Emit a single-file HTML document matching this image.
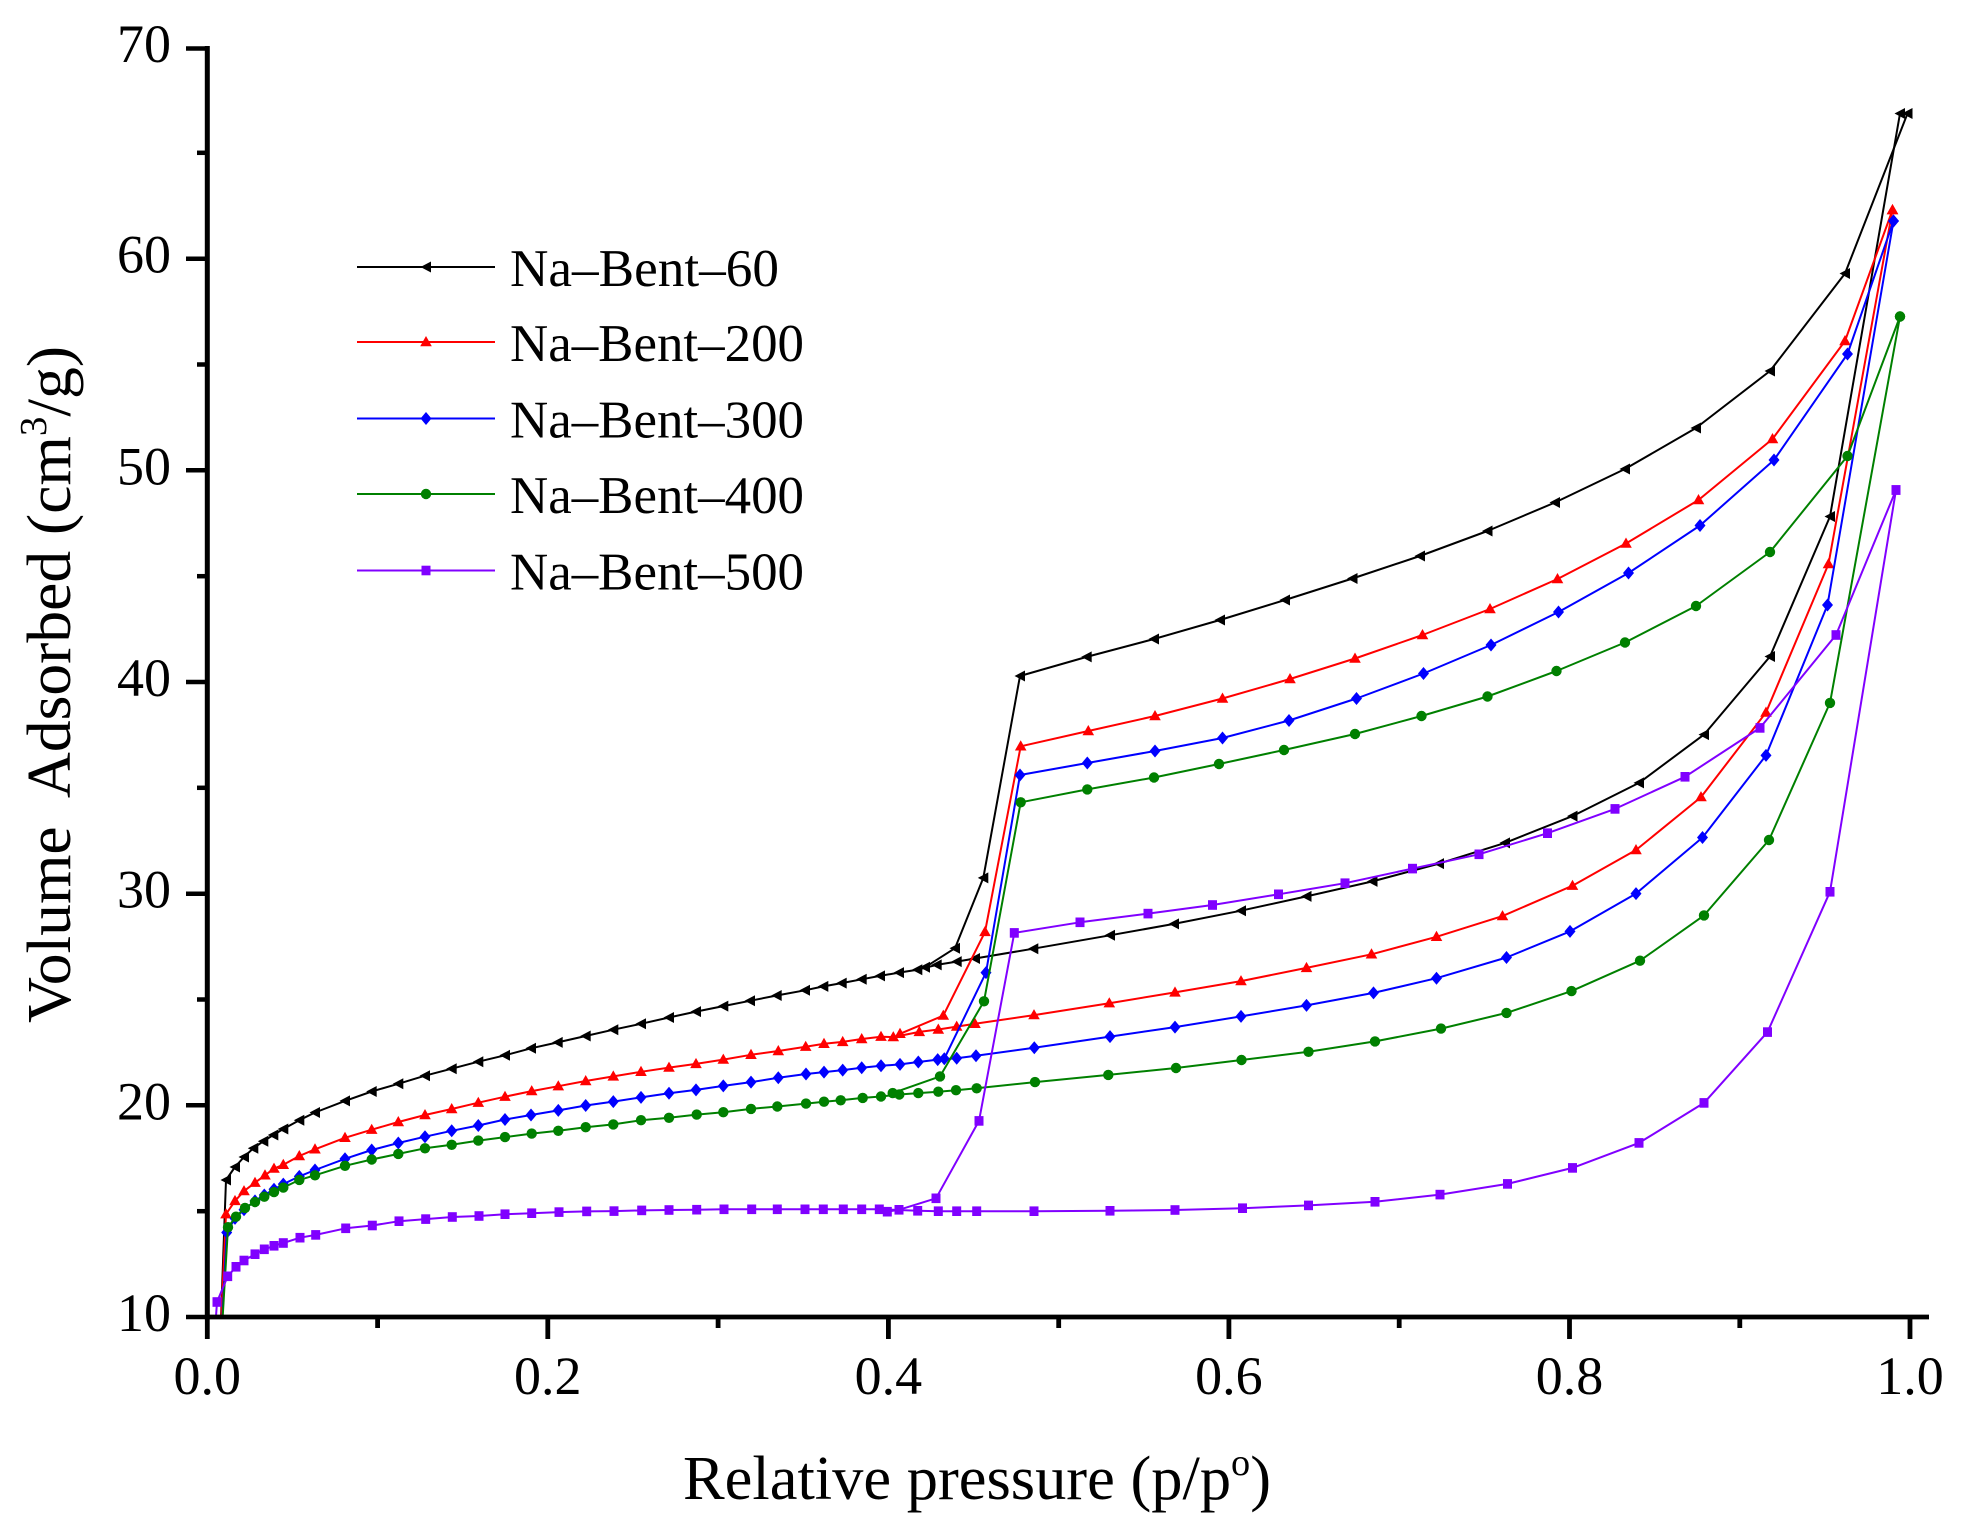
<!DOCTYPE html>
<html>
<head>
<meta charset="utf-8">
<style>
html,body{margin:0;padding:0;background:#fff;}
svg{display:block;}
text{font-family:"Liberation Serif","DejaVu Serif",serif;fill:#000;}
</style>
</head>
<body>
<svg width="1971" height="1538" viewBox="0 0 1971 1538" xmlns="http://www.w3.org/2000/svg">
<defs>
<clipPath id="plot"><rect x="207" y="0" width="1764" height="1317"/></clipPath>
<marker id="mk" markerUnits="userSpaceOnUse" markerWidth="14" markerHeight="14" refX="0" refY="0" overflow="visible"><path d="M-5.5,0 L5,-5.5 L5,5.5 Z" fill="#000"/></marker>
<marker id="mr" markerUnits="userSpaceOnUse" markerWidth="14" markerHeight="14" refX="0" refY="0" overflow="visible"><path d="M0,-6 L5.8,4.2 L-5.8,4.2 Z" fill="#ff0000"/></marker>
<marker id="mb" markerUnits="userSpaceOnUse" markerWidth="14" markerHeight="14" refX="0" refY="0" overflow="visible"><path d="M0,-6.5 L5.5,0 L0,6.5 L-5.5,0 Z" fill="#0000ff"/></marker>
<marker id="mg" markerUnits="userSpaceOnUse" markerWidth="14" markerHeight="14" refX="0" refY="0" overflow="visible"><circle cx="0" cy="0" r="5.2" fill="#008000"/></marker>
<marker id="mp" markerUnits="userSpaceOnUse" markerWidth="14" markerHeight="14" refX="0" refY="0" overflow="visible"><rect x="-4.5" y="-4.8" width="9" height="9.6" fill="#8000ff"/></marker>
</defs>

<!-- series -->
<g clip-path="url(#plot)" fill="none" stroke-width="2" stroke-linejoin="round">
<!-- black -->
<polyline stroke="#000" marker-start="url(#mk)" marker-mid="url(#mk)" marker-end="url(#mk)" points="220,1345 226,1180 235,1167 244,1157 253.3,1148.3 263.3,1141.3 273.3,1135 283.3,1129 299.3,1120.2 315,1112.5 345,1100.9 371.7,1091.5 398.3,1083.8 425,1075.7 451.7,1068.7 478.3,1061.7 505,1055.3 531,1048.3 557.7,1042.4 585.7,1036 613.3,1029.7 641,1023.8 669,1017.5 696,1011.6 723.3,1006.1 750,1000.8 776.7,995.5 805,990.3 823.3,986.4 841.7,983.1 861.7,979.3 880,975.9 899,972.6 917.3,969.7 936.7,964.9 956.7,961.6 975,958.5 1033.3,948.7 1110,935.3 1174,923.9 1241,910.7 1306.5,896.4 1372.5,881.4 1439,863.6 1505,842.9 1572.5,816.1 1639,782.9 1704,734.6 1770,656.5 1830,516.5 1900,113.5"/>
<polyline stroke="#000" marker-start="url(#mk)" marker-mid="url(#mk)" marker-end="url(#mk)" points="1907.5,113.5 1845,273.5 1770,371 1696,428 1625,469 1555,502.5 1487.5,531 1420,556 1352.5,578.5 1285,600 1220,620 1154,639 1086.7,656.9 1020,676 983.3,877.9 955,948.2 925,967.3"/>
<!-- red -->
<polyline stroke="#ff0000" marker-start="url(#mr)" marker-mid="url(#mr)" marker-end="url(#mr)" points="220,1345 226,1214.2 235,1200.9 244,1191.1 255,1182.7 265,1175.3 274,1168.6 283.3,1164.8 299.3,1156 315,1149.3 345,1137.8 371.7,1129.7 398.3,1122 425,1115 451.7,1109 478.3,1102.7 505,1096.7 531.7,1091.1 558.3,1086.2 585.7,1081 613.3,1076.4 641,1071.8 669,1067.6 696,1063.9 723.3,1059.6 751,1054.8 778.3,1051 805.7,1046.7 824,1043.8 842.7,1041.9 861.7,1039 881,1036.7 893.3,1037.1 919.3,1031.9 938.3,1029.5 956.7,1026.6 975,1023.8 1034,1015.1 1109.3,1003.2 1175,992.4 1241,981.1 1306.5,967.9 1371.5,954.3 1436.5,936.8 1502.5,916.1 1572.5,885.7 1636,850 1701,797.1 1766,712.5 1828.5,564 1892.5,210"/>
<polyline stroke="#ff0000" marker-start="url(#mr)" marker-mid="url(#mr)" marker-end="url(#mr)" points="1892.5,210 1845,341 1772.5,439 1698.5,500 1626,543.5 1557.5,579 1490,609 1422.5,635 1355,658.5 1290,679 1222.5,698.5 1155,716 1088.3,731 1020.7,746.3 985,931.9 943.3,1015.6 900,1033.8"/>
<!-- blue -->
<polyline stroke="#0000ff" marker-start="url(#mb)" marker-mid="url(#mb)" marker-end="url(#mb)" points="221,1345 226.7,1232.5 235,1218.4 244,1209.7 255,1200.9 264.3,1195 274,1189.3 283.3,1184.1 299.3,1176.4 315,1170 345,1158.8 371.7,1150 398.3,1143 425,1136.7 451.7,1130.8 478.3,1125.5 505,1119.5 531,1115 558.3,1110.4 585.7,1105.5 613.3,1101.6 641,1097.4 669,1093.2 696,1089.9 723.3,1085.9 751,1082.1 778.3,1077.8 806,1074 824,1072.1 842.7,1070.1 861.7,1067.7 881,1065.8 900,1064.4 918.3,1062 937.7,1059.6 956.7,1058.2 976,1055.8 1034.3,1047.7 1110,1036.6 1175,1027.1 1241,1016.4 1306.5,1005.4 1373.5,992.9 1436.5,978.2 1506.5,957.5 1570,931.4 1636,893.6 1702.5,837.5 1766,755.4 1827.5,605 1893.5,221"/>
<polyline stroke="#0000ff" marker-start="url(#mb)" marker-mid="url(#mb)" marker-end="url(#mb)" points="1893.5,221 1847.5,354 1774,460 1700,525.5 1628.5,573 1558.5,612 1491,645 1423.5,673.5 1356.5,698.5 1289,720.5 1222.5,738 1155,751 1087.3,763 1020,775 986,972.6 944.3,1058.7"/>
<!-- green -->
<polyline stroke="#008000" marker-start="url(#mg)" marker-mid="url(#mg)" marker-end="url(#mg)" points="221,1345 228,1227.2 236,1216.7 245,1207.9 255,1202 264.3,1196.7 274,1192.1 283.3,1187.6 299.3,1179.9 315,1175.3 345,1165.8 371.7,1159.5 398.3,1153.9 425,1148.3 451.7,1144.8 478.3,1140.6 505,1137.1 531.7,1133.6 558.3,1130.8 585.7,1127.2 613.3,1124.4 641,1120.2 669,1117.8 696.7,1114.6 723.3,1112.2 751,1108.9 777.3,1106.5 806,1103.6 824,1101.7 840.7,1100.3 862.7,1097.9 881,1096.5 899.3,1094.5 918.3,1093.1 938.3,1091.7 956,1090.2 976.7,1088.3 1035,1082.1 1108.3,1074.9 1176,1068 1241.5,1060 1308.5,1051.8 1375,1041.4 1441,1028.6 1506.5,1012.9 1571.5,991.1 1640,960.7 1704,915.4 1769,840 1830,702.9 1900,316.5"/>
<polyline stroke="#008000" marker-start="url(#mg)" marker-mid="url(#mg)" marker-end="url(#mg)" points="1900,316.5 1847.5,456 1770,552 1696,606 1625,642.5 1556.5,671 1487.5,696.5 1421.5,716 1355,734 1284,750 1219,764 1154,777.5 1087.3,789.4 1020.7,802.3 984,1001.3 940,1076.4 892.7,1093.1"/>
<!-- purple -->
<polyline stroke="#8000ff" marker-start="url(#mp)" marker-mid="url(#mp)" marker-end="url(#mp)" points="214,1345 217,1302 227.7,1276.3 236,1266.8 244,1260.5 255,1254.2 264.3,1249.3 274,1245.8 283.3,1243 300,1237.7 315.7,1234.9 345.7,1228.3 372.3,1225.5 399,1221.2 425.7,1219.1 452.3,1217 479,1216 505,1214.2 531.7,1213.2 559,1212.1 586.7,1211.4 614,1211.1 641.7,1210.4 669,1210 696.7,1209.7 724,1209.3 751.7,1209.3 777.3,1209.3 805,1209.3 823.3,1209.3 843.3,1209.3 861.7,1209.3 879.3,1209.3 917.7,1210.8 938.3,1211.2 956.7,1211.2 976.7,1211.2 1034,1211.2 1110,1210.8 1175,1210 1242.5,1208.2 1308.5,1205.4 1375,1201.8 1440,1194.6 1507.5,1183.9 1572.5,1167.9 1639,1142.9 1704,1102.9 1767.5,1032.1 1830,891.8 1896,490"/>
<polyline stroke="#8000ff" marker-start="url(#mp)" marker-mid="url(#mp)" marker-end="url(#mp)" points="1896,490 1836,635 1760,727.9 1685,776.8 1615,808.9 1547.5,833.2 1479,854.3 1412.5,868.6 1345,883.2 1278.5,894.3 1212.5,905 1148,913.6 1080,922.3 1014.3,932.9 979,1120.9 936,1198.3 899,1209.8 887.3,1211.7"/>
</g>

<!-- axes -->
<g stroke="#000" fill="none">
<line x1="207.3" y1="46" x2="207.3" y2="1319.5" stroke-width="5"/>
<line x1="205" y1="1317" x2="1929" y2="1317" stroke-width="4.7"/>
<!-- y major ticks -->
<g stroke-width="4.5">
<line x1="186" y1="1317" x2="207" y2="1317"/>
<line x1="186" y1="1105.3" x2="207" y2="1105.3"/>
<line x1="186" y1="893.7" x2="207" y2="893.7"/>
<line x1="186" y1="682" x2="207" y2="682"/>
<line x1="186" y1="470.3" x2="207" y2="470.3"/>
<line x1="186" y1="258.7" x2="207" y2="258.7"/>
<line x1="186" y1="48.5" x2="207" y2="48.5"/>
</g>
<!-- y minor ticks -->
<g stroke-width="4.5">
<line x1="197" y1="1211.2" x2="207" y2="1211.2"/>
<line x1="197" y1="999.5" x2="207" y2="999.5"/>
<line x1="197" y1="787.8" x2="207" y2="787.8"/>
<line x1="197" y1="576.2" x2="207" y2="576.2"/>
<line x1="197" y1="364.5" x2="207" y2="364.5"/>
<line x1="197" y1="152.8" x2="207" y2="152.8"/>
</g>
<!-- x major ticks -->
<g stroke-width="4.8">
<line x1="207.3" y1="1317" x2="207.3" y2="1339"/>
<line x1="547.8" y1="1317" x2="547.8" y2="1339"/>
<line x1="888.4" y1="1317" x2="888.4" y2="1339"/>
<line x1="1228.9" y1="1317" x2="1228.9" y2="1339"/>
<line x1="1569.5" y1="1317" x2="1569.5" y2="1339"/>
<line x1="1910" y1="1317" x2="1910" y2="1339"/>
</g>
<!-- x minor ticks -->
<g stroke-width="4.8">
<line x1="377.6" y1="1317" x2="377.6" y2="1328"/>
<line x1="718.1" y1="1317" x2="718.1" y2="1328"/>
<line x1="1058.7" y1="1317" x2="1058.7" y2="1328"/>
<line x1="1399.2" y1="1317" x2="1399.2" y2="1328"/>
<line x1="1739.8" y1="1317" x2="1739.8" y2="1328"/>
</g>
</g>

<!-- tick labels -->
<g font-size="54" text-anchor="end">
<text x="171" y="1331">10</text>
<text x="171" y="1119.3">20</text>
<text x="171" y="907.7">30</text>
<text x="171" y="696">40</text>
<text x="171" y="484.3">50</text>
<text x="171" y="272.7">60</text>
<text x="171" y="62">70</text>
</g>
<g font-size="54" text-anchor="middle">
<text x="207.3" y="1394">0.0</text>
<text x="547.8" y="1394">0.2</text>
<text x="888.4" y="1394">0.4</text>
<text x="1228.9" y="1394">0.6</text>
<text x="1569.5" y="1394">0.8</text>
<text x="1910" y="1394">1.0</text>
</g>

<!-- axis titles -->
<text x="683" y="1499" font-size="62" textLength="588" lengthAdjust="spacingAndGlyphs">Relative pressure (p/p<tspan font-size="38" dy="-24">o</tspan><tspan dy="24">)</tspan></text>
<text transform="translate(70,1023) rotate(-90)" font-size="62" textLength="677" lengthAdjust="spacingAndGlyphs" xml:space="preserve">Volume  Adsorbed (cm<tspan font-size="38" dy="-24">3</tspan><tspan dy="24">/g)</tspan></text>

<!-- legend -->
<g stroke-width="2">
<line x1="357" y1="267" x2="495" y2="267" stroke="#000"/>
<line x1="357" y1="342" x2="495" y2="342" stroke="#ff0000"/>
<line x1="357" y1="418.5" x2="495" y2="418.5" stroke="#0000ff"/>
<line x1="357" y1="494" x2="495" y2="494" stroke="#008000"/>
<line x1="357" y1="570.5" x2="495" y2="570.5" stroke="#8000ff"/>
</g>
<path d="M420.5,267 L431,261.5 L431,272.5 Z" fill="#000"/>
<path d="M426,336 L431.8,346.2 L420.2,346.2 Z" fill="#ff0000"/>
<path d="M426,412 L431.5,418.5 L426,425 L420.5,418.5 Z" fill="#0000ff"/>
<circle cx="426" cy="494" r="5.2" fill="#008000"/>
<rect x="421.5" y="565.7" width="9" height="9.6" fill="#8000ff"/>
<g font-size="53">
<text x="510" y="286" textLength="269" lengthAdjust="spacingAndGlyphs">Na–Bent–60</text>
<text x="510" y="361" textLength="294" lengthAdjust="spacingAndGlyphs">Na–Bent–200</text>
<text x="510" y="437.5" textLength="294" lengthAdjust="spacingAndGlyphs">Na–Bent–300</text>
<text x="510" y="513" textLength="294" lengthAdjust="spacingAndGlyphs">Na–Bent–400</text>
<text x="510" y="589.5" textLength="294" lengthAdjust="spacingAndGlyphs">Na–Bent–500</text>
</g>
</svg>
</body>
</html>
